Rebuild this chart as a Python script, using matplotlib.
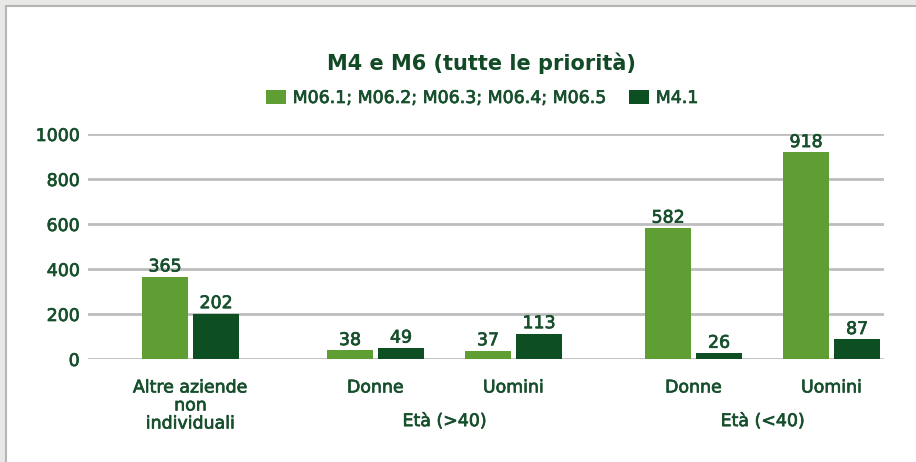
import matplotlib
matplotlib.use("Agg")
import matplotlib.pyplot as plt
import matplotlib.patheffects as pe
from matplotlib.patches import Rectangle, Patch

# data
categories = ["Altre aziende\nnon\nindividuali", "Donne", "Uomini", "Donne", "Uomini"]
groups = ["Età (>40)", "Età (<40)"]
series_names = ["M06.1; M06.2; M06.3; M06.4; M06.5", "M4.1"]
m06 = [365, 38, 37, 582, 918]
m41 = [202, 49, 113, 26, 87]

# layout of the category axis (gaps between the groups)
positions = [0, 1.34, 2.34, 3.645, 4.645]
group_members = [(1, 2), (3, 4)]

LIGHT = "#5f9e32"
DARK = "#0d4f23"
TXT = "#174f2c"
GRID = "#bdbdbd"
FS = 12.5

plt.rcParams["font.family"] = ["DejaVu Sans"]
# a touch heavier than the regular weight, like the original medium face
heavy = [pe.withStroke(linewidth=0.5, foreground=TXT)]

W, H = 916, 462
fig = plt.figure(figsize=(W / 100, H / 100), dpi=100)
fig.patch.set_facecolor("#e8e8e6")

# white panel
fig.add_artist(Rectangle((6 / W, -0.1), 1.0, 1.1 - 6 / H, transform=fig.transFigure,
                         facecolor="white", edgecolor="#b5b5b5", linewidth=1.5, zorder=0))

ax = fig.add_axes([88 / W, (H - 359) / H, (884 - 88) / W, (359 - 134) / H])
ax.set_facecolor("none")

bw = 46 / 138
off = 51 / 2 / 138
x1 = [p - off for p in positions]
x2 = [p + off for p in positions]
b1 = ax.bar(x1, m06, width=bw, color=LIGHT, zorder=3)
b2 = ax.bar(x2, m41, width=bw, color=DARK, zorder=3)
for bars in (b1, b2):
    for t in ax.bar_label(bars, padding=1, color=TXT, fontsize=FS):
        t.set_path_effects(heavy)

ax.set_ylim(0, 1000)
ax.set_xlim(-0.743, 5.025)
ax.set_yticks(range(0, 1001, 200))
ax.yaxis.grid(True, color=GRID, linewidth=2)
ax.set_axisbelow(True)
for s in ax.spines.values():
    s.set_visible(False)
ax.tick_params(axis="y", length=0, pad=6, labelsize=FS, labelcolor=TXT)
ax.set_xticks(positions, categories)
ax.tick_params(axis="x", length=0, pad=14, labelsize=FS, labelcolor=TXT)
for lab in ax.get_xticklabels() + ax.get_yticklabels():
    lab.set_linespacing(1.0)
    lab.set_path_effects(heavy)

for name, (a, b) in zip(groups, group_members):
    ax.text((positions[a] + positions[b]) / 2, -0.276, name, transform=ax.get_xaxis_transform(),
            ha="center", va="center", fontsize=FS, color=TXT, path_effects=heavy)

fig.text(481 / W, 1 - 63 / H, "M4 e M6 (tutte le priorità)", ha="center", va="center",
         fontsize=15, fontweight="bold", color="#124a26")

handles = [Patch(facecolor=LIGHT), Patch(facecolor=DARK)]
leg = fig.legend(handles, series_names, loc="center", bbox_to_anchor=(482 / W, 1 - 98 / H), ncol=2,
                 frameon=False, fontsize=FS, labelcolor=TXT, handlelength=1.15, handleheight=0.9,
                 handletextpad=0.4, columnspacing=1.3)
for t in leg.get_texts():
    t.set_path_effects(heavy)

fig.savefig("out.png", dpi=100)
